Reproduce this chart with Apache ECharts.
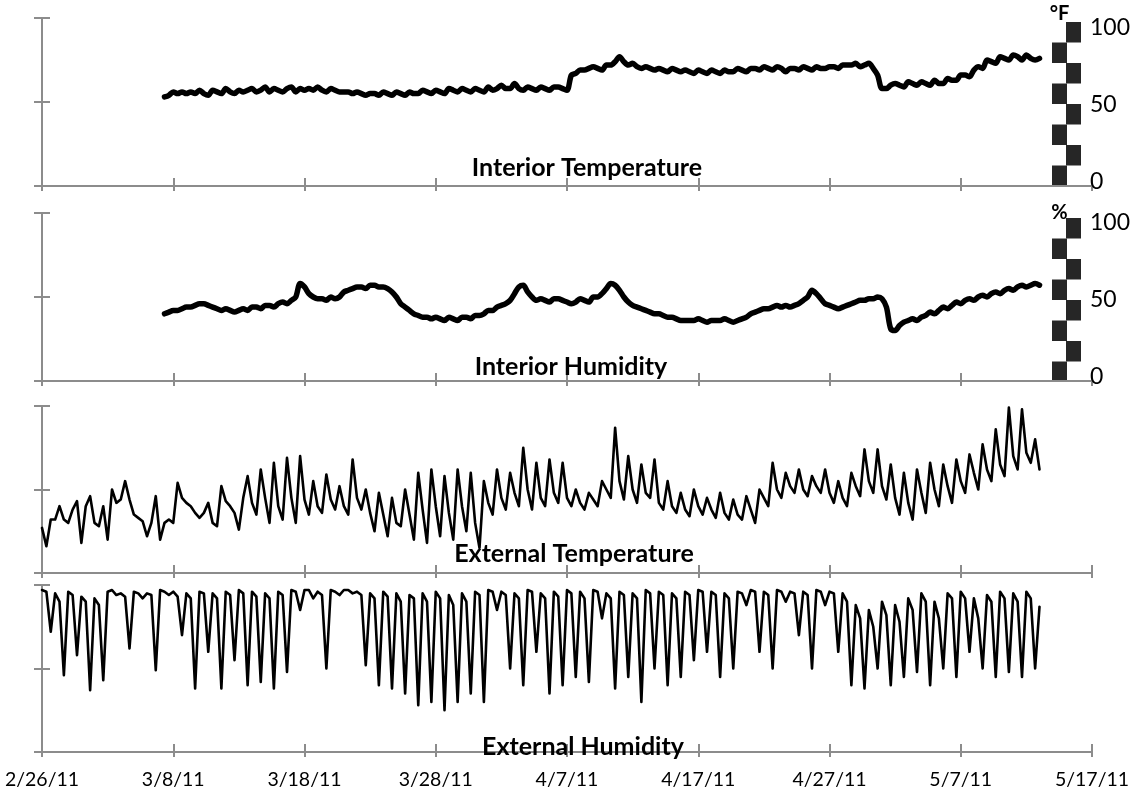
<!DOCTYPE html>
<html>
<head>
<meta charset="utf-8">
<script src="https://cdn.jsdelivr.net/npm/echarts@6/dist/echarts.min.js"></script>
<style>
  html, body { margin: 0; padding: 0; background: #fff; }
  #chart { width: 1143px; height: 794px; }
</style>
</head>
<body>
<div id="chart"></div>
<script>
// Day 0 = 2/26/11; the x scale runs in days, one tick every 10 days
const xTickLabels = ['2/26/11', '3/8/11', '3/18/11', '3/28/11', '4/7/11', '4/17/11', '4/27/11', '5/7/11', '5/17/11'];
const yTickValues = [0, 50, 100];
const panelTitles = ['Interior Temperature', 'Interior Humidity', 'External Temperature', 'External Humidity'];
const unitNames = ['°F', '%'];

// Readings every 8 hours
const stepDays = 1 / 3;
const interiorStartDay = 9 + 1 / 3;
const externalStartDay = 0;

// Interior temperature, °F
const interiorTemp = [
  53, 54, 56, 55, 56, 55, 56, 55, 57, 55, 54, 57, 56, 55, 58, 56, 55, 57, 56, 57, 58, 56, 57, 59,
  56, 58, 57, 56, 58, 59, 56, 58, 57, 58, 57, 59, 57, 56, 58, 57, 56, 56, 56, 55, 56, 55, 54, 55,
  55, 54, 56, 55, 54, 56, 55, 54, 56, 55, 55, 57, 56, 55, 57, 56, 55, 58, 57, 56, 58, 57, 56, 58,
  57, 56, 59, 57, 58, 60, 58, 58, 61, 58, 57, 59, 58, 57, 59, 58, 57, 59, 59, 58, 57, 66, 67, 69,
  69, 70, 71, 70, 69, 72, 72, 74, 77, 74, 72, 73, 71, 70, 71, 70, 69, 70, 69, 68, 70, 69, 68, 69,
  68, 67, 69, 68, 67, 69, 68, 67, 69, 68, 68, 70, 69, 68, 70, 70, 69, 71, 70, 69, 71, 70, 68, 70,
  70, 69, 71, 70, 69, 71, 70, 70, 71, 71, 70, 72, 72, 72, 73, 71, 72, 73, 70, 66, 58, 58, 60, 61,
  60, 59, 62, 61, 60, 62, 61, 60, 63, 61, 61, 64, 63, 63, 66, 66, 65, 69, 71, 70, 75, 74, 73, 77,
  76, 75, 78, 77, 75, 78, 76, 75, 76
];

// Interior relative humidity, %
const interiorHumidity = [
  40, 41, 42, 42, 43, 44, 44, 45, 46, 46, 45, 44, 43, 42, 43, 42, 41, 42, 43, 42, 44, 44, 43, 45,
  45, 44, 46, 47, 46, 48, 50, 58, 56, 52, 50, 49, 49, 48, 50, 49, 50, 53, 54, 55, 56, 56, 55, 57,
  57, 56, 56, 55, 53, 50, 46, 44, 42, 40, 39, 38, 38, 37, 38, 37, 36, 38, 37, 36, 38, 38, 37, 39,
  39, 40, 42, 42, 44, 45, 46, 48, 52, 56, 57, 53, 50, 48, 49, 48, 47, 49, 49, 48, 47, 46, 47, 49,
  48, 47, 50, 50, 52, 55, 58, 57, 54, 50, 47, 45, 44, 43, 42, 41, 40, 40, 39, 38, 38, 37, 36, 36,
  36, 36, 37, 36, 35, 36, 36, 36, 37, 36, 35, 36, 37, 38, 40, 41, 42, 43, 43, 44, 45, 44, 45, 44,
  45, 46, 48, 50, 54, 52, 49, 46, 45, 44, 43, 44, 45, 46, 47, 48, 48, 49, 49, 50, 49, 44, 31, 30,
  33, 35, 36, 37, 36, 38, 39, 41, 40, 42, 44, 43, 45, 47, 46, 48, 49, 48, 50, 51, 50, 52, 53, 52,
  54, 55, 54, 56, 57, 56, 57, 58, 57
];

// Outdoor temperature, °F
const externalTemp = [
  27, 16, 32, 32, 40, 32, 30, 38, 43, 18, 40, 46, 30, 28, 40, 20, 50, 42, 44, 55, 44, 35, 33, 31,
  22, 30, 46, 20, 30, 32, 30, 54, 45, 42, 40, 36, 33, 36, 42, 30, 28, 52, 43, 40, 36, 26, 45, 58,
  42, 35, 62, 45, 30, 66, 40, 32, 69, 45, 30, 70, 44, 35, 55, 40, 36, 59, 44, 38, 52, 40, 35, 68,
  45, 38, 50, 36, 25, 48, 35, 22, 45, 30, 28, 50, 35, 20, 60, 38, 18, 62, 40, 22, 58, 36, 20, 62,
  40, 25, 60, 30, 15, 55, 42, 35, 62, 45, 38, 60, 48, 40, 75, 50, 38, 66, 45, 40, 68, 48, 42, 66,
  45, 40, 50, 42, 38, 48, 44, 40, 55, 50, 45, 87, 55, 44, 70, 50, 42, 65, 48, 45, 68, 42, 38, 55,
  40, 36, 48, 38, 34, 50, 40, 35, 45, 38, 33, 48, 36, 32, 44, 35, 32, 46, 38, 30, 50, 45, 40, 66,
  50, 45, 60, 52, 48, 62, 50, 46, 58, 52, 48, 62, 48, 42, 55, 45, 40, 60, 52, 46, 74, 55, 48, 74,
  52, 44, 65, 45, 35, 60, 42, 32, 62, 48, 36, 66, 50, 40, 65, 52, 42, 68, 55, 48, 71, 60, 50, 77,
  62, 55, 86, 65, 58, 99, 70, 62, 98, 72, 66, 80, 62
];

// Outdoor relative humidity, %
const externalHumidity = [
  97, 96, 72, 95, 90, 46, 96, 94, 58, 93, 90, 37, 92, 88, 43, 96, 97, 94, 95, 93, 62, 96, 95, 92,
  95, 94, 49, 97, 96, 94, 96, 93, 70, 95, 92, 38, 96, 95, 60, 95, 92, 38, 96, 94, 55, 97, 95, 40,
  96, 93, 42, 95, 92, 38, 96, 94, 48, 97, 96, 85, 97, 97, 92, 96, 94, 50, 97, 96, 94, 97, 97, 95,
  96, 94, 52, 95, 92, 40, 96, 93, 38, 95, 90, 35, 94, 92, 28, 95, 90, 30, 96, 92, 25, 94, 88, 30,
  95, 90, 35, 96, 94, 30, 97, 96, 85, 96, 94, 50, 95, 92, 40, 97, 96, 60, 95, 92, 35, 96, 93, 40,
  97, 95, 45, 96, 92, 42, 97, 96, 80, 95, 92, 38, 96, 94, 45, 95, 92, 30, 97, 95, 50, 96, 94, 40,
  95, 92, 45, 96, 94, 55, 97, 96, 60, 96, 94, 45, 95, 92, 50, 96, 95, 88, 97, 96, 60, 96, 94, 50,
  97, 96, 90, 96, 95, 70, 96, 94, 50, 97, 96, 88, 96, 95, 60, 95, 90, 40, 88, 80, 38, 85, 75, 50,
  90, 82, 40, 88, 78, 45, 92, 85, 48, 95, 90, 40, 90, 80, 50, 95, 92, 45, 96, 92, 60, 92, 80, 50,
  94, 90, 45, 96, 92, 48, 95, 90, 45, 96, 92, 50, 87
];

const seriesValues = [interiorTemp, interiorHumidity, externalTemp, externalHumidity];
const seriesStart = [interiorStartDay, interiorStartDay, externalStartDay, externalStartDay];

function toPoints(values, start) {
  return values.map((v, i) => [start + i * stepDays, v]);
}

const FONT = 'Lato, "Open Sans", sans-serif';
const AXIS_GREY = '#8c8c8c';
const BLOCK = '#262626';

// Panel plot areas (left axis at x=42, right end at 5/17)
const panelTop = [18, 213, 406, 585];
const panelHeight = [168, 168, 167, 167];
const plotLeft = 42;
const plotWidth = 1050;

const grid = [], xAxis = [], yAxis = [], series = [], graphic = [];

panelTop.forEach((top, p) => {
  const g = grid.length;
  grid.push({ left: plotLeft, top: top, width: plotWidth, height: panelHeight[p] });
  const isLast = p === panelTop.length - 1;
  // main x axis: line, short outside ticks, date labels on the bottom panel only
  xAxis.push({
    type: 'value', gridIndex: g, min: 0, max: 80, interval: 10, position: 'bottom',
    axisLine: { show: true, onZero: false, lineStyle: { color: AXIS_GREY, width: 2 } },
    axisTick: { show: true, inside: false, length: 5, lineStyle: { color: AXIS_GREY, width: 2 } },
    splitLine: { show: false },
    axisLabel: {
      show: isLast, margin: 18, color: '#000', fontFamily: FONT, fontSize: 19.5,
      formatter: v => xTickLabels[Math.round(v / 10)]
    }
  });
  // second x axis: the upper half of each crossing tick
  xAxis.push({
    type: 'value', gridIndex: g, min: 0, max: 80, interval: 10, position: 'bottom',
    axisLine: { show: false, onZero: false },
    axisTick: { show: true, inside: true, length: 8, lineStyle: { color: AXIS_GREY, width: 2 } },
    splitLine: { show: false }, axisLabel: { show: false }
  });
  yAxis.push({
    type: 'value', gridIndex: g, min: yTickValues[0], max: yTickValues[2], interval: 50, position: 'left',
    axisLine: { show: true, onZero: false, lineStyle: { color: AXIS_GREY, width: 2 } },
    axisTick: { show: true, inside: false, length: 8, lineStyle: { color: AXIS_GREY, width: 2 } },
    splitLine: { show: false }, axisLabel: { show: false }
  });
  yAxis.push({
    type: 'value', gridIndex: g, min: yTickValues[0], max: yTickValues[2], interval: 50, position: 'left',
    axisLine: { show: false, onZero: false },
    axisTick: { show: true, inside: true, length: 8, lineStyle: { color: AXIS_GREY, width: 2 } },
    splitLine: { show: false }, axisLabel: { show: false }
  });
  series.push({
    name: panelTitles[p], type: 'line', xAxisIndex: xAxis.length - 2, yAxisIndex: yAxis.length - 2,
    data: toPoints(seriesValues[p], seriesStart[p]),
    showSymbol: false, symbol: 'none', smooth: p < 2 ? 0.3 : false,
    lineStyle: { color: '#000', width: p < 2 ? 5.5 : 2.6, join: 'round', cap: 'round' },
    z: 3
  });
});

// Secondary value scale (0–100) for the interior panels, drawn as a block column
const scaleTop = [22, 218];
const labelTop = [28, 223];
const unitGap = [8, 5];
unitNames.forEach((unit, p) => {
  const g = grid.length;
  grid.push({ left: 1059.5, top: scaleTop[p], width: 14, height: 164 });
  xAxis.push({ type: 'value', gridIndex: g, min: 0, max: 1, show: false });
  const blockLen = 164 / 8;
  yAxis.push({
    type: 'value', gridIndex: g, min: 0, max: 100, position: 'left',
    name: unit, nameLocation: 'end', nameGap: unitGap[p],
    nameTextStyle: { fontFamily: FONT, fontSize: 20, fontWeight: 'bold', color: '#000', verticalAlign: 'middle', align: 'center' },
    axisLine: { show: true, onZero: false, lineStyle: { color: BLOCK, width: 15, cap: 'butt', type: [blockLen, blockLen], dashOffset: 0 } },
    axisTick: { show: false }, axisLabel: { show: false }, splitLine: { show: false }
  });
  yAxis.push({
    type: 'value', gridIndex: g, min: 0, max: 100, position: 'right',
    axisLine: { show: true, onZero: false, lineStyle: { color: BLOCK, width: 15, cap: 'butt', type: [blockLen, blockLen], dashOffset: blockLen } },
    axisTick: { show: false }, axisLabel: { show: false }, splitLine: { show: false }
  });
  const gl = grid.length;
  grid.push({ left: 1059.5, top: labelTop[p], width: 21.5, height: 154 });
  xAxis.push({ type: 'value', gridIndex: gl, min: 0, max: 1, show: false });
  yAxis.push({
    type: 'value', gridIndex: gl, min: yTickValues[0], max: yTickValues[2], interval: 50, position: 'right',
    axisLine: { show: false }, axisTick: { show: false }, splitLine: { show: false },
    axisLabel: { show: true, margin: 9, color: '#000', fontFamily: FONT, fontSize: 23 }
  });
});

// Panel captions
const titlePos = [[587, 168], [571, 367], [574, 554], [583, 747]];
panelTitles.forEach((t, p) => {
  graphic.push({
    type: 'text', x: titlePos[p][0], y: titlePos[p][1], z: 10,
    style: { text: t, fontFamily: FONT, fontSize: 25, fontWeight: 'bold', fill: '#000', align: 'center', verticalAlign: 'middle' }
  });
});

const chart = echarts.init(document.getElementById('chart'), null, { renderer: 'canvas' });
chart.setOption({
  animation: false,
  backgroundColor: '#fff',
  grid, xAxis, yAxis, series, graphic
});
</script>
</body>
</html>
